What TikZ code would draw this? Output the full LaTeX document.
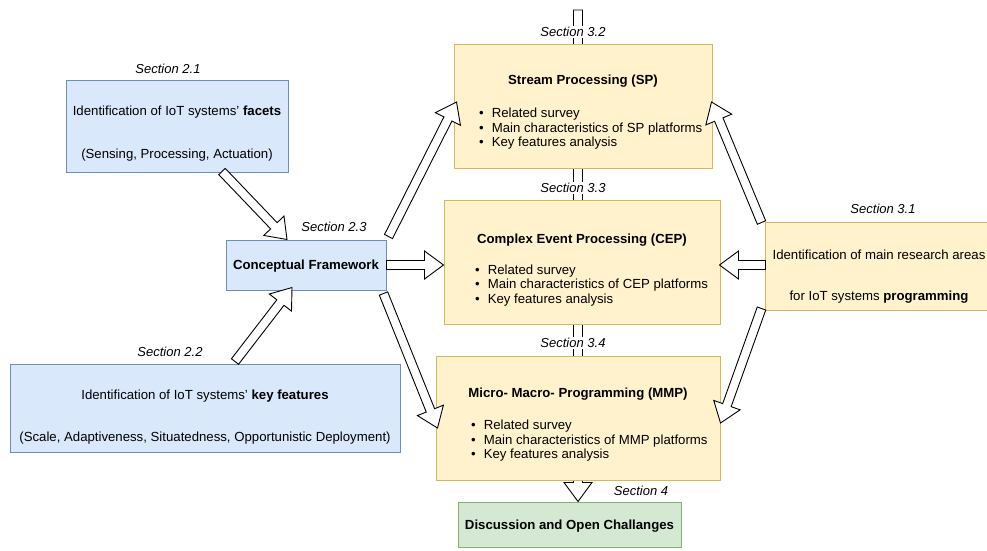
\documentclass[tikz,border=0pt]{standalone}
\usepackage{fontspec}
\setmainfont{Liberation Sans}
\usetikzlibrary{calc}

\definecolor{blueF}{HTML}{DAE8FC}
\definecolor{blueD}{HTML}{6C8EBF}
\definecolor{yellowF}{HTML}{FFF2CC}
\definecolor{yellowD}{HTML}{D6B656}
\definecolor{greenF}{HTML}{D5E8D4}
\definecolor{greenD}{HTML}{82B366}

% hollow block arrow from #1 to #2
\newcommand{\shaftw}{4.5pt}
\newcommand{\headw}{14pt}
\newcommand{\headl}{19pt}
\newcommand{\blockarrow}[2]{%
  \path (#1) coordinate (ba-s) (#2) coordinate (ba-e);
  \coordinate (ba-h) at ($(ba-e)!\headl!(ba-s)$);
  \draw[hollow]
    ($(ba-s)!\shaftw!90:(ba-e)$) --
    ($(ba-h)!\shaftw!-90:(ba-s)$) --
    ($(ba-h)!\headw!-90:(ba-s)$) --
    (ba-e) --
    ($(ba-h)!\headw!90:(ba-s)$) --
    ($(ba-h)!\shaftw!90:(ba-s)$) --
    ($(ba-s)!\shaftw!-90:(ba-e)$) -- cycle;
}
\newcommand{\bitem}{\textbullet\hspace{8pt}}

\begin{document}
\begin{tikzpicture}[x=1pt,y=-1pt,
  font=\fontsize{13.2}{14.5}\selectfont,
  box/.style={rectangle, line width=1pt, inner sep=0pt},
  bluebox/.style={box, fill=blueF, draw=blueD},
  yellowbox/.style={box, fill=yellowF, draw=yellowD},
  greenbox/.style={box, fill=greenF, draw=greenD},
  sect/.style={font=\fontsize{13}{14}\selectfont\itshape, fill=white, inner sep=1.5pt, yshift=-1pt},
  txt/.style={inner sep=0pt, yshift=-1.5pt},
  title/.style={txt, font=\fontsize{13.2}{14.5}\selectfont\bfseries},
  blist/.style={txt, align=left, anchor=west},
  hollow/.style={draw=black, fill=white, line width=0.9pt, line join=miter},
]
\useasboundingbox (0,0) rectangle (987,550);

% the final box sits below the main vertical flow
\node[greenbox, minimum width=223, minimum height=45] (disc) at (569.5,524.5) {};

% main vertical flow behind the section boxes
\coordinate (flowtop) at (578,10);
\blockarrow{flowtop}{$(disc.north -| flowtop)$}

\node[bluebox, minimum width=222, minimum height=92] (f21) at (177,126) {};
\node[bluebox, minimum width=390, minimum height=88] (f22) at (205,408) {};
\node[bluebox, minimum width=160, minimum height=50] (cf) at (306,265) {};
\node[yellowbox, minimum width=258, minimum height=124] (sp) at (583,106) {};
\node[yellowbox, minimum width=276, minimum height=124] (cep) at (582,262) {};
\node[yellowbox, minimum width=284, minimum height=124] (mmp) at (578,418) {};
\node[yellowbox, minimum width=228, minimum height=88] (ra) at (879,266) {};
\node[greenbox, minimum width=223, minimum height=45] (disc2) at (disc) {};

% texts
\node[txt] (t21a) at (177,111) {Identification of IoT systems' \textbf{facets}};
\node[txt] (t21b) at (177,154) {(Sensing, Processing, Actuation)};
\node[txt] (t22a) at (205,395) {Identification of IoT systems' \textbf{key features}};
\node[txt] (t22b) at (205,437) {(Scale, Adaptiveness, Situatedness, Opportunistic Deployment)};
\node[title] (tcf) at (cf) {Conceptual Framework};
\node[txt] (tra1) at (879,253) {Identification of main research areas};
\node[txt] (tra2) at (879,296) {for IoT systems \textbf{programming}};
\node[title] (tdisc) at (disc2) {Discussion and Open Challanges};

\node[title] (tsp) at (583,80) {Stream Processing (SP)};
\node[blist] (lsp) at (479,127.5) {\bitem Related survey\\
  \bitem Main characteristics of SP platforms\\
  \bitem Key features analysis};
\node[title] (tcep) at (582,239) {Complex Event Processing (CEP)};
\node[blist] (lcep) at (475,284) {\bitem Related survey\\
  \bitem Main characteristics of CEP platforms\\
  \bitem Key features analysis};
\node[title] (tmmp) at (578,393) {Micro- Macro- Programming (MMP)};
\node[blist] (lmmp) at (471,439.5) {\bitem Related survey\\
  \bitem Main characteristics of MMP platforms\\
  \bitem Key features analysis};

% section labels
\node[sect] (s21) at (168,68) {Section 2.1};
\node[sect] (s22) at (170,351) {Section 2.2};
\node[sect] (s23) at (334,226) {Section 2.3};
\node[sect] (s32) at (573,31) {Section 3.2};
\node[sect] (s33) at (573,187) {Section 3.3};
\node[sect] (s34) at (573,342) {Section 3.4};
\node[sect] (s4) at (641,490) {Section 4};
\node[sect] (s31) at (883,208) {Section 3.1};

% connectors
\blockarrow{$(f21.south)+(45,-1)$}{$(cf.north)+(-19,0)$}
\blockarrow{$(f22.north)+(30,-2)$}{$(cf.south)+(-14,-3)$}
\blockarrow{cf.east}{cf.east -| cep.west}
\blockarrow{$(cf.north east)+(2,-3)$}{$(sp.west)+(3,-4)$}
\blockarrow{$(cf.south east)+(-3,3)$}{$(mmp.west)+(2,10)$}
\blockarrow{$(ra.north west)+(-3,1)$}{$(sp.east)+(-1,-4)$}
\blockarrow{$(ra.west)+(1,-1)$}{$(ra.west -| cep.east)+(-1,-1)$}
\blockarrow{$(ra.south west)+(-3,-2)$}{$(mmp.east)+(0,5)$}
\end{tikzpicture}
\end{document}
